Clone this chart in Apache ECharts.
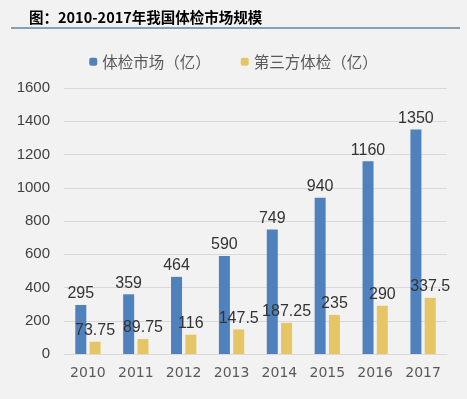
<!DOCTYPE html>
<html>
<head>
<meta charset="utf-8">
<script src="https://cdn.jsdelivr.net/npm/echarts@6/dist/echarts.min.js"></script>
<style>
  html, body { margin: 0; padding: 0; background: #f2f2f2; }
  #main { width: 467px; height: 399px; }
</style>
</head>
<body>
<div id="main"></div>
<script>
var years = ['2010', '2011', '2012', '2013', '2014', '2015', '2016', '2017'];
var market = [295, 359, 464, 590, 749, 940, 1160, 1350];
var thirdParty = [73.75, 89.75, 116, 147.5, 187.25, 235, 290, 337.5];
var seriesNames = ['体检市场（亿）', '第三方体检（亿）'];

var myChart = echarts.init(document.getElementById('main'));

var labelStyle = {
    show: true,
    position: 'top',
    distance: 3,
    color: '#333',
    fontSize: 16,
    fontFamily: 'Liberation Sans, Arial, sans-serif'
};

var option = {
    backgroundColor: '#f2f2f2',
    title: {
        text: '图：2010-2017年我国体检市场规模',
        left: 24,
        top: 5,
        textStyle: {
            fontSize: 14.5,
            fontWeight: 'bold',
            color: '#000',
            fontFamily: 'Noto Sans CJK SC'
        }
    },
    graphic: [{
        type: 'line',
        shape: { x1: 11, y1: 28, x2: 460, y2: 28 },
        style: { stroke: '#1f4e79', lineWidth: 1.2 }
    }],
    legend: {
        top: 49,
        left: 'center',
        itemWidth: 8,
        itemHeight: 8,
        itemGap: 30,
        textStyle: {
            color: '#595959',
            fontSize: 15.5,
            fontFamily: 'Noto Sans CJK SC'
        },
        data: seriesNames
    },
    grid: {
        left: 64,
        right: 20,
        top: 88,
        bottom: 45
    },
    xAxis: {
        type: 'category',
        data: years,
        axisTick: { show: false },
        axisLine: { lineStyle: { color: '#d9d9d9' } },
        axisLabel: {
            color: '#595959',
            fontSize: 14,
            margin: 12,
            fontFamily: 'DejaVu Sans'
        }
    },
    yAxis: {
        type: 'value',
        min: 0,
        max: 1600,
        interval: 200,
        axisLine: { show: false },
        axisTick: { show: false },
        splitLine: { lineStyle: { color: '#d9d9d9' } },
        axisLabel: {
            color: '#404040',
            fontSize: 15,
            margin: 14,
            fontFamily: 'Liberation Sans, Arial, sans-serif',
            formatter: function (v) { return String(v); }
        }
    },
    series: [
        {
            name: seriesNames[0],
            type: 'bar',
            data: market,
            barWidth: 11,
            barGap: '30%',
            itemStyle: { color: '#4f81bd' },
            label: labelStyle
        },
        {
            name: seriesNames[1],
            type: 'bar',
            data: thirdParty,
            barWidth: 11,
            itemStyle: { color: '#e6c664' },
            label: labelStyle
        }
    ]
};

myChart.setOption(option);
</script>
</body>
</html>
